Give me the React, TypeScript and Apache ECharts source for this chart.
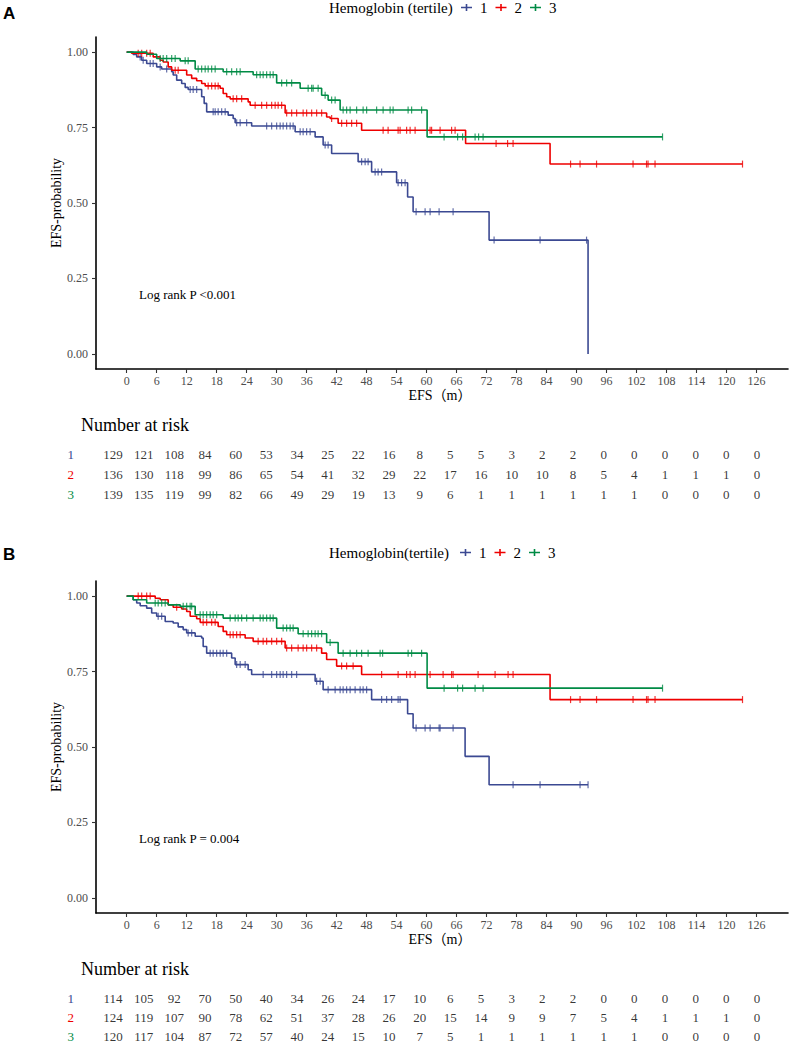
import React, { useEffect, useRef } from "react";
import * as echarts from "echarts";

// Kaplan–Meier curves of event-free survival by hemoglobin tertile (two cohorts)

const BLUE = "#3B4992";
const RED = "#EE0000";
const GREEN = "#008B45";
const COLORS = [BLUE, RED, GREEN];
const groups = ["1", "2", "3"];

const xTicks = [0, 6, 12, 18, 24, 30, 36, 42, 48, 54, 60, 66, 72, 78, 84, 90, 96, 102, 108, 114, 120, 126];
const yTicks = [0, 0.25, 0.5, 0.75, 1];
const riskTimes = xTicks;

// ---- Cohort A: step points [month, survival] and censoring times ----
const kmA1: [number, number][] = [[0, 1], [1.3, 0.992], [2, 0.984], [3, 0.973], [4, 0.962], [6, 0.951], [7, 0.944], [9, 0.935], [9.3, 0.924], [10, 0.907], [11, 0.896], [11.7, 0.883], [12.3, 0.876], [15, 0.852], [15.5, 0.83], [16, 0.802], [20.3, 0.791], [21.3, 0.78], [21.7, 0.766], [25, 0.755], [33.7, 0.736], [37.7, 0.719], [39.3, 0.692], [41, 0.664], [46.3, 0.637], [49, 0.603], [54, 0.567], [56.2, 0.52], [57.3, 0.471], [72.5, 0.377], [92.3, 0]];
const censA1 = [2.7, 3.3, 4.7, 5.3, 6.7, 8, 12.7, 13.3, 14, 17.3, 17.7, 18.3, 19, 19.7, 22, 22.7, 24, 28, 29, 30, 30.7, 31.3, 32, 32.7, 33.3, 34.7, 35.3, 36, 36.7, 39.7, 40.3, 47, 47.7, 48.3, 49.7, 50.3, 51, 54.3, 55, 55.7, 57.9, 59.7, 60.7, 62.5, 65.3, 73.5, 82.7, 92];

const kmA2: [number, number][] = [[0, 1], [0.97, 0.996], [5.3, 0.984], [6.7, 0.973], [7.3, 0.967], [8.3, 0.951], [9, 0.94], [12, 0.924], [13, 0.913], [14, 0.905], [15, 0.896], [15.7, 0.888], [18.7, 0.88], [19.3, 0.863], [20, 0.852], [20.7, 0.845], [24.3, 0.835], [24.7, 0.824], [31.7, 0.798], [40, 0.785], [40.7, 0.78], [42.3, 0.764], [47, 0.741], [67.8, 0.697], [84.7, 0.629], [123.2, 0.629]];
const censA2 = [2.3, 3, 4, 4.7, 9.7, 10.3, 16.3, 17, 17.7, 18.3, 21.3, 22, 23, 25.7, 27, 28, 29, 29.7, 30.3, 31, 32, 33, 34, 35.3, 36, 37, 38, 39, 41, 43, 44, 45, 46, 51.3, 52.3, 54.3, 54.7, 56, 56.7, 57.7, 60.7, 61, 62.7, 65, 65.7, 73.9, 76.2, 77.3, 88.8, 90.7, 94, 101.3, 104, 104.3, 105.7, 123.2];

const kmA3: [number, number][] = [[0, 1], [4, 0.993], [6, 0.979], [10.7, 0.971], [13.7, 0.944], [19.3, 0.935], [25.3, 0.925], [30, 0.898], [34.7, 0.88], [39, 0.857], [40.3, 0.841], [42.7, 0.808], [60.1, 0.719], [107.2, 0.719]];
const censA3 = [6.7, 7.3, 8, 9, 9.7, 11.7, 12.3, 14.3, 15, 15.7, 16.3, 17, 17.7, 20, 21, 22, 22.7, 26, 26.7, 27.3, 28, 28.7, 29.3, 31, 32, 33, 36.3, 37, 37.3, 38.3, 39.7, 41, 41.7, 43.3, 44, 44.7, 46, 47.3, 48, 50, 51.3, 52.7, 53.3, 56.3, 57, 59, 63.5, 66.2, 67.2, 69.7, 70.4, 71.3, 107.2];

const riskA1 = [129, 121, 108, 84, 60, 53, 34, 25, 22, 16, 8, 5, 5, 3, 2, 2, 0, 0, 0, 0, 0, 0];
const riskA2 = [136, 130, 118, 99, 86, 65, 54, 41, 32, 29, 22, 17, 16, 10, 10, 8, 5, 4, 1, 1, 1, 0];
const riskA3 = [139, 135, 119, 99, 82, 66, 49, 29, 19, 13, 9, 6, 1, 1, 1, 1, 1, 1, 0, 0, 0, 0];

// ---- Cohort B ----
const kmB1: [number, number][] = [[0, 1], [1.3, 0.988], [2, 0.977], [2.7, 0.968], [4, 0.96], [5, 0.944], [6, 0.933], [7.7, 0.916], [9.3, 0.911], [10.3, 0.898], [11.3, 0.889], [12, 0.878], [13.7, 0.867], [15, 0.861], [15.3, 0.833], [16, 0.811], [21, 0.795], [21.7, 0.773], [24.3, 0.756], [25, 0.74], [37.7, 0.718], [39.3, 0.69], [49, 0.657], [56.2, 0.61], [57.3, 0.563], [67.7, 0.469], [72.5, 0.375], [92.3, 0.375]];
const censB1 = [6.3, 7, 12.3, 13, 16.7, 17.3, 18, 18.7, 19.3, 20, 22, 22.7, 23.7, 27.3, 29, 30, 30.7, 31.3, 32, 33, 34, 38, 38.7, 40.3, 41.7, 42.7, 43.3, 44, 44.7, 45.7, 46.7, 47.3, 48, 51, 52, 53, 54.3, 54.7, 57.9, 59.7, 60.7, 62.5, 62.7, 65.3, 77.3, 82.7, 90.7, 92.3];

const kmB2: [number, number][] = [[0, 1], [5.7, 0.993], [6.7, 0.988], [8.3, 0.971], [9.3, 0.963], [11, 0.957], [12, 0.949], [12.7, 0.933], [14, 0.925], [14.7, 0.913], [18.3, 0.899], [19.3, 0.883], [20, 0.872], [23.7, 0.861], [25.3, 0.85], [31.7, 0.828], [39, 0.811], [40, 0.79], [42, 0.768], [47, 0.74], [84.7, 0.657], [123.2, 0.657]];
const censB2 = [2.3, 3, 4, 4.7, 10, 15.3, 16, 17, 17.7, 20.7, 21.3, 22, 22.7, 26.3, 27.3, 28, 29, 30, 31, 32, 33, 34.3, 35.3, 36, 37, 38, 43, 44, 45.3, 51, 54.3, 56, 56.7, 57.7, 60.7, 63.3, 65, 65.3, 70.3, 73.7, 76.3, 77.3, 88.8, 90.7, 94, 101.3, 104, 104.3, 105.7, 123.2];

const kmB3: [number, number][] = [[0, 1], [1.3, 0.988], [4, 0.977], [8.3, 0.971], [10.7, 0.966], [13.7, 0.938], [19.3, 0.927], [30, 0.894], [34.3, 0.875], [40, 0.846], [42.3, 0.811], [60.1, 0.695], [107.2, 0.695]];
const censB3 = [5.7, 6.3, 7, 7.7, 11.3, 12, 12.7, 13, 14.7, 15.3, 16, 16.7, 17.3, 18, 20.7, 21.7, 22.3, 23, 24, 25.3, 26.7, 27.3, 28, 28.7, 29.3, 31.3, 32, 32.7, 33.3, 35.3, 36.3, 37, 37.7, 38.3, 39, 40.7, 43.3, 44.7, 46, 47, 48.3, 50.7, 51.2, 56.3, 57, 59, 63.5, 66.2, 67.2, 69.7, 71.3, 107.2];

const riskB1 = [114, 105, 92, 70, 50, 40, 34, 26, 24, 17, 10, 6, 5, 3, 2, 2, 0, 0, 0, 0, 0, 0];
const riskB2 = [124, 119, 107, 90, 78, 62, 51, 37, 28, 26, 20, 15, 14, 9, 9, 7, 5, 4, 1, 1, 1, 0];
const riskB3 = [120, 117, 104, 87, 72, 57, 40, 24, 15, 10, 7, 5, 1, 1, 1, 1, 1, 1, 0, 0, 0, 0];

const SERIF = '"Liberation Serif", serif';
const PLUS_ICON = "path://M0,2.7H11V4.3H0Z M4.7,0H6.3V7H4.7Z";

function survAt(curve: [number, number][], t: number): number {
  let s = 1;
  for (const [ti, si] of curve) {
    if (ti <= t) s = si;
    else break;
  }
  return s;
}

interface Panel {
  curves: [number, number][][];
  cens: number[][];
  risk: number[][];
  top: number;
  riskTop: number;
  legendTitle: string;
  letter: string;
  pText: string;
}

const panels: Panel[] = [
  {
    curves: [kmA1, kmA2, kmA3],
    cens: [censA1, censA2, censA3],
    risk: [riskA1, riskA2, riskA3],
    top: 37,
    riskTop: 444,
    legendTitle: "Hemoglobin (tertile)",
    letter: "A",
    pText: "Log rank P <0.001",
  },
  {
    curves: [kmB1, kmB2, kmB3],
    cens: [censB1, censB2, censB3],
    risk: [riskB1, riskB2, riskB3],
    top: 581,
    riskTop: 989,
    legendTitle: "Hemoglobin(tertile)",
    letter: "B",
    pText: "Log rank P = 0.004",
  },
];

const GRID_LEFT = 96;
const GRID_WIDTH = 692;
const KM_HEIGHT = 332;

function buildOption() {
  const grid: any[] = [];
  const xAxis: any[] = [];
  const yAxis: any[] = [];
  const series: any[] = [];
  const legend: any[] = [];
  const graphic: any[] = [];

  panels.forEach((p, pi) => {
    const kmIdx = pi * 2;
    const rIdx = pi * 2 + 1;
    grid.push({ left: GRID_LEFT, top: p.top, width: GRID_WIDTH, height: KM_HEIGHT, containLabel: false });
    grid.push({ left: GRID_LEFT, top: p.riskTop, width: GRID_WIDTH, height: 60, containLabel: false });

    xAxis.push({
      type: "value",
      gridIndex: kmIdx,
      min: -6.14,
      max: 132.3,
      axisLine: { show: true, onZero: false, lineStyle: { color: "#000", width: 1.6 } },
      axisTick: { show: true, length: 4, customValues: xTicks, lineStyle: { color: "#333", width: 1.1 } },
      axisLabel: { customValues: xTicks, margin: 6, fontSize: 12, color: "#4D4D4D", fontFamily: SERIF },
      splitLine: { show: false },
    });
    xAxis.push({ type: "value", gridIndex: rIdx, min: -3.33, max: 132.07, show: false });

    yAxis.push({
      type: "value",
      gridIndex: kmIdx,
      min: -0.05,
      max: 1.05,
      axisLine: { show: true, onZero: false, lineStyle: { color: "#000", width: 1.6 } },
      axisTick: { show: true, length: 4, customValues: yTicks, lineStyle: { color: "#333", width: 1.1 } },
      axisLabel: {
        customValues: yTicks,
        margin: 8,
        fontSize: 12,
        color: "#4D4D4D",
        fontFamily: SERIF,
        formatter: (v: number) => v.toFixed(2),
      },
      splitLine: { show: false },
    });
    yAxis.push({
      type: "category",
      gridIndex: rIdx,
      data: groups,
      inverse: true,
      axisLine: { show: false },
      axisTick: { show: false },
      splitLine: { show: false },
      axisLabel: {
        margin: 22,
        fontSize: 13,
        fontFamily: SERIF,
        formatter: (v: string) => `{g${v}|${v}}`,
        rich: {
          g1: { color: BLUE, fontSize: 13, fontFamily: SERIF },
          g2: { color: RED, fontSize: 13, fontFamily: SERIF },
          g3: { color: GREEN, fontSize: 13, fontFamily: SERIF },
        },
      },
    });

    groups.forEach((g, gi) => {
      const color = COLORS[gi];
      const curve = p.curves[gi];
      series.push({
        name: g,
        type: "line",
        xAxisIndex: kmIdx,
        yAxisIndex: kmIdx,
        data: curve,
        step: "end",
        showSymbol: false,
        symbol: "none",
        silent: true,
        color,
        lineStyle: { color, width: 1.6 },
        z: 2 + gi,
      });
      series.push({
        name: g,
        type: "scatter",
        xAxisIndex: kmIdx,
        yAxisIndex: kmIdx,
        data: p.cens[gi].map((t) => [t, survAt(curve, t)]),
        symbol: "rect",
        symbolSize: [1.2, 7],
        silent: true,
        itemStyle: { color },
        z: 2 + gi,
      });
      series.push({
        name: `risk-${g}`,
        type: "scatter",
        xAxisIndex: rIdx,
        yAxisIndex: rIdx,
        data: riskTimes.map((t, i) => [t, g, p.risk[gi][i]]),
        symbolSize: 1,
        silent: true,
        itemStyle: { color: "rgba(0,0,0,0)" },
        label: {
          show: true,
          position: "inside",
          formatter: (q: any) => String(q.value[2]),
          fontSize: 13,
          fontFamily: SERIF,
          color: "#000",
        },
      });
    });

    const legendCenter = pi === 0 ? 8 : 553;
    legend.push({
      data: groups,
      left: pi === 0 ? 461 : 460,
      top: legendCenter - 8,
      padding: 0,
      icon: PLUS_ICON,
      itemWidth: 11,
      itemHeight: 7,
      itemGap: 8,
      selectedMode: false,
      textStyle: { fontSize: 15, fontFamily: SERIF, color: "#000", padding: [0, 0, 0, 3] },
    });

    const kmMid = p.top + KM_HEIGHT / 2;
    const axisBottom = p.top + KM_HEIGHT;
    graphic.push(
      {
        type: "text",
        left: 3,
        top: pi === 0 ? 5 : 546,
        style: { text: p.letter, fontSize: 17, fontWeight: "bold", fontFamily: '"Liberation Sans", sans-serif', fill: "#000" },
      },
      {
        type: "text",
        x: 329,
        y: legendCenter,
        style: { text: p.legendTitle, fontSize: 15, fontFamily: SERIF, fill: "#000", verticalAlign: "middle", align: "left" },
      },
      {
        type: "text",
        x: 56,
        y: kmMid,
        rotation: Math.PI / 2,
        style: { text: "EFS-probability", fontSize: 14, fontFamily: SERIF, fill: "#000", align: "center", verticalAlign: "middle" },
      },
      {
        type: "text",
        x: 440,
        y: axisBottom + 26,
        style: { text: "EFS（m）", fontSize: 14, fontFamily: '"Liberation Serif", "Noto Sans CJK SC", serif', fill: "#000", align: "center", verticalAlign: "middle" },
      },
      {
        type: "text",
        x: 139,
        y: pi === 0 ? 294 : 838,
        style: { text: p.pText, fontSize: 13, fontFamily: SERIF, fill: "#000", align: "left", verticalAlign: "middle" },
      },
      {
        type: "text",
        x: 81,
        y: pi === 0 ? 425 : 969,
        style: { text: "Number at risk", fontSize: 18, fontFamily: SERIF, fill: "#000", align: "left", verticalAlign: "middle" },
      }
    );
  });

  return {
    animation: false,
    backgroundColor: "#fff",
    textStyle: { fontFamily: SERIF },
    grid,
    xAxis,
    yAxis,
    legend,
    series,
    graphic,
  };
}

export default function App() {
  const ref = useRef<HTMLDivElement>(null);
  useEffect(() => {
    if (!ref.current) return;
    const chart = echarts.init(ref.current, undefined, { renderer: "svg" });
    chart.setOption(buildOption() as any);
    return () => chart.dispose();
  }, []);
  return (
    <div
      ref={ref}
      style={{ position: "absolute", left: 0, top: 0, width: 790, height: 1046, background: "#fff" }}
    />
  );
}
